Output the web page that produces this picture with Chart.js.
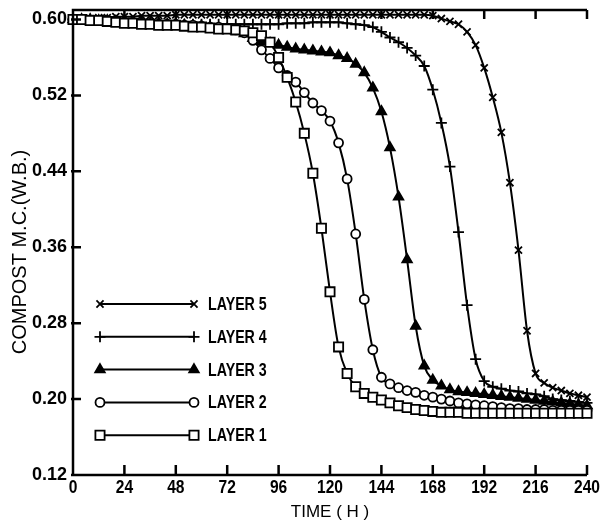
<!DOCTYPE html>
<html>
<head>
<meta charset="utf-8">
<script src="https://cdn.jsdelivr.net/npm/chart.js@4/dist/chart.umd.min.js"></script>
<style>
  html, body { margin: 0; padding: 0; background: #fff; }
  #wrap { width: 600px; height: 529px; position: relative; }
</style>
</head>
<body>
<div id="wrap"><canvas id="mc"></canvas></div>
<script>
// time of each reading (h)
var hours = [0, 4, 8, 12, 16, 20, 24, 28, 32, 36,
             40, 44, 48, 52, 56, 60, 64, 68, 72, 76,
             80, 84, 88, 92, 96, 100, 104, 108, 112, 116,
             120, 124, 128, 132, 136, 140, 144, 148, 152, 156,
             160, 164, 168, 172, 176, 180, 184, 188, 192, 196,
             200, 204, 208, 212, 216, 220, 224, 228, 232, 236,
             240];

// compost moisture content (wet basis) per layer
var layer1 = [0.600, 0.600, 0.599, 0.599, 0.598, 0.597, 0.596, 0.596, 0.595, 0.595,
              0.594, 0.594, 0.594, 0.593, 0.592, 0.592, 0.591, 0.590, 0.590, 0.589,
              0.588, 0.586, 0.583, 0.576, 0.560, 0.539, 0.513, 0.480, 0.438, 0.380,
              0.313, 0.255, 0.227, 0.213, 0.206, 0.202, 0.199, 0.196, 0.193, 0.191,
              0.189, 0.188, 0.187, 0.186, 0.186, 0.186, 0.185, 0.185, 0.185, 0.185,
              0.185, 0.185, 0.185, 0.185, 0.185, 0.185, 0.185, 0.185, 0.185, 0.185,
              0.185];
var layer2 = [0.600, 0.600, 0.599, 0.599, 0.598, 0.598, 0.597, 0.597, 0.596, 0.596,
              0.595, 0.595, 0.595, 0.594, 0.594, 0.593, 0.592, 0.592, 0.591, 0.589,
              0.586, 0.578, 0.568, 0.559, 0.549, 0.541, 0.534, 0.523, 0.512, 0.504,
              0.493, 0.470, 0.432, 0.374, 0.305, 0.252, 0.223, 0.216, 0.212, 0.209,
              0.207, 0.204, 0.202, 0.200, 0.198, 0.196, 0.195, 0.194, 0.193, 0.192,
              0.191, 0.190, 0.190, 0.189, 0.189, 0.189, 0.188, 0.188, 0.188, 0.188,
              0.188];
var layer3 = [0.600, 0.600, 0.600, 0.599, 0.599, 0.598, 0.598, 0.597, 0.597, 0.596,
              0.596, 0.595, 0.595, 0.594, 0.593, 0.593, 0.592, 0.591, 0.590, 0.588,
              0.585, 0.580, 0.577, 0.575, 0.573, 0.571, 0.569, 0.568, 0.567, 0.566,
              0.565, 0.562, 0.559, 0.553, 0.544, 0.528, 0.503, 0.465, 0.413, 0.347,
              0.277, 0.235, 0.220, 0.214, 0.210, 0.208, 0.207, 0.206, 0.205, 0.204,
              0.203, 0.202, 0.201, 0.200, 0.199, 0.198, 0.197, 0.196, 0.195, 0.194,
              0.193];
var layer4 = [0.600, 0.600, 0.599, 0.599, 0.598, 0.598, 0.597, 0.597, 0.596, 0.596,
              0.596, 0.595, 0.595, 0.595, 0.595, 0.595, 0.595, 0.595, 0.595, 0.595,
              0.595, 0.595, 0.595, 0.595, 0.595, 0.596, 0.596, 0.596, 0.597, 0.597,
              0.597, 0.597, 0.596, 0.595, 0.594, 0.592, 0.587, 0.581, 0.576, 0.570,
              0.562, 0.551, 0.526, 0.491, 0.445, 0.376, 0.299, 0.242, 0.219, 0.213,
              0.211, 0.209, 0.208, 0.206, 0.205, 0.203, 0.200, 0.199, 0.198, 0.197,
              0.196];
var layer5 = [0.600, 0.601, 0.601, 0.602, 0.602, 0.603, 0.603, 0.603, 0.604, 0.604,
              0.604, 0.604, 0.605, 0.605, 0.605, 0.605, 0.605, 0.605, 0.605, 0.605,
              0.605, 0.605, 0.605, 0.605, 0.605, 0.605, 0.605, 0.605, 0.605, 0.605,
              0.605, 0.605, 0.605, 0.605, 0.605, 0.605, 0.605, 0.605, 0.605, 0.605,
              0.605, 0.605, 0.604, 0.601, 0.598, 0.595, 0.587, 0.573, 0.549, 0.518,
              0.481, 0.428, 0.357, 0.272, 0.227, 0.217, 0.212, 0.209, 0.206, 0.204,
              0.202];

var layerNames = ['LAYER 1', 'LAYER 2', 'LAYER 3', 'LAYER 4', 'LAYER 5'];
var xTicks = [0, 24, 48, 72, 96, 120, 144, 168, 192, 216, 240];
var yTicks = [0.12, 0.20, 0.28, 0.36, 0.44, 0.52, 0.60];
var xTitle = 'TIME ( H )';
var yTitle = 'COMPOST M.C.(W.B.)';

var sans = "'Liberation Sans', Arial, sans-serif";

//pair each reading with its time
function pts(vals) {
    return vals.map(function(v, i) { return {x: hours[i], y: v}; });
}

//marker look per layer
var markers = [
    {style: 'rect', radius: 6.5, bg: '#fff'},
    {style: 'circle', radius: 4.5, bg: '#fff'},
    {style: 'triangle', radius: 5.5, bg: '#000'},
    {style: 'cross', radius: 5.5, bg: '#000'},
    {style: 'crossRot', radius: 5, bg: '#000'}
];
var series = [layer1, layer2, layer3, layer4, layer5];

var datasets = series.map(function(vals, i) {
    return {
        label: layerNames[i],
        data: pts(vals),
        borderColor: '#000',
        borderWidth: 2,
        pointStyle: markers[i].style,
        pointRadius: markers[i].radius,
        pointBackgroundColor: markers[i].bg,
        pointBorderColor: '#000',
        pointBorderWidth: 1.8,
        cubicInterpolationMode: 'monotone',
        clip: false
    };
});

//condensed text helper
function squeezeText(ctx, text, x, y, sx, font, align) {
    ctx.save();
    ctx.translate(x, y);
    ctx.scale(sx, 1);
    ctx.font = font;
    ctx.textAlign = align;
    ctx.textBaseline = 'middle';
    ctx.fillStyle = '#000';
    ctx.fillText(text, 0, 0);
    ctx.restore();
}

//axes box with inward ticks, x labels, y title, and the in-plot legend
var framePlugin = {
    id: 'frame',
    afterDraw: function(chart) {
        var ctx = chart.ctx, a = chart.chartArea;
        var xs = chart.scales.x, ys = chart.scales.y;
        ctx.save();
        ctx.strokeStyle = '#000';
        ctx.lineWidth = 2.5;
        ctx.beginPath();
        ctx.moveTo(a.right, a.top);
        ctx.lineTo(a.left, a.top);
        ctx.lineTo(a.left, a.bottom);
        ctx.lineTo(a.right, a.bottom);
        xTicks.forEach(function(t) {
            if (t === 0) return;
            var px = xs.getPixelForValue(t);
            ctx.moveTo(px, a.bottom);
            ctx.lineTo(px, a.bottom - 10);
            ctx.moveTo(px, a.top);
            ctx.lineTo(px, a.top + 9);
        });
        yTicks.forEach(function(t) {
            var py = ys.getPixelForValue(t);
            ctx.moveTo(a.left - 2, py);
            ctx.lineTo(a.left + 8, py);
        });
        ctx.stroke();

        //x tick labels
        xTicks.forEach(function(t) {
            squeezeText(ctx, String(t), xs.getPixelForValue(t), a.bottom + 13, 0.82, 'bold 19px ' + sans, 'center');
        });

        //y title
        ctx.fillStyle = '#000';
        ctx.save();
        ctx.translate(20, 252);
        ctx.rotate(-Math.PI / 2);
        ctx.font = '20px ' + sans;
        ctx.textAlign = 'center';
        ctx.textBaseline = 'middle';
        ctx.fillText(yTitle, 0, 0);
        ctx.restore();

        //legend, top entry is layer 5
        for (var k = 0; k < 5; k++) {
            var i = 4 - k;
            var y = 304 + k * 32.8;
            ctx.strokeStyle = '#000';
            ctx.lineWidth = 2;
            ctx.beginPath();
            ctx.moveTo(100, y);
            ctx.lineTo(194, y);
            ctx.stroke();
            var opt = {pointStyle: markers[i].style, radius: markers[i].radius, rotation: 0, borderWidth: 1.8};
            [100, 194].forEach(function(px) {
                ctx.fillStyle = markers[i].bg;
                ctx.lineWidth = 1.8;
                Chart.helpers.drawPoint(ctx, opt, px, y);
            });
            squeezeText(ctx, layerNames[i], 208, y + 1, 0.79, 'bold 18px ' + sans, 'left');
        }
        ctx.restore();
    }
};

var ctxMc = document.getElementById('mc').getContext('2d');
var mcChart = new Chart(ctxMc, {
    type: 'line',
    data: { datasets: datasets },
    options: {
        responsive: true,
        maintainAspectRatio: false,
        animation: false,
        layout: { padding: { left: 0, right: 13, top: 10, bottom: 0 } },
        plugins: { legend: { display: false }, tooltip: { enabled: false } },
        scales: {
            x: {
                type: 'linear',
                min: 0,
                max: 240,
                //fixed box, labels drawn by the plugin
                afterFit: function(s) { s.height = 54; s.paddingLeft = 0; s.paddingRight = 0; },
                afterBuildTicks: function(s) { s.ticks = xTicks.map(function(v) { return {value: v}; }); },
                grid: { display: false, drawTicks: false },
                border: { display: false },
                ticks: { display: false },
                title: {
                    display: true, text: xTitle, color: '#000',
                    font: { family: sans, size: 17 },
                    padding: { top: 0, bottom: 6 }
                }
            },
            y: {
                min: 0.12,
                max: 0.61,
                afterFit: function(s) { s.width = 73; s.paddingTop = 0; s.paddingBottom = 0; },
                afterBuildTicks: function(s) { s.ticks = yTicks.map(function(v) { return {value: v}; }); },
                grid: { display: false, drawTicks: false },
                border: { display: false },
                ticks: {
                    color: '#000', padding: 6,
                    font: { family: sans, size: 18, weight: 'bold' },
                    callback: function(v) { return v.toFixed(2); }
                }
            }
        }
    },
    plugins: [framePlugin]
});
</script>
</body>
</html>
